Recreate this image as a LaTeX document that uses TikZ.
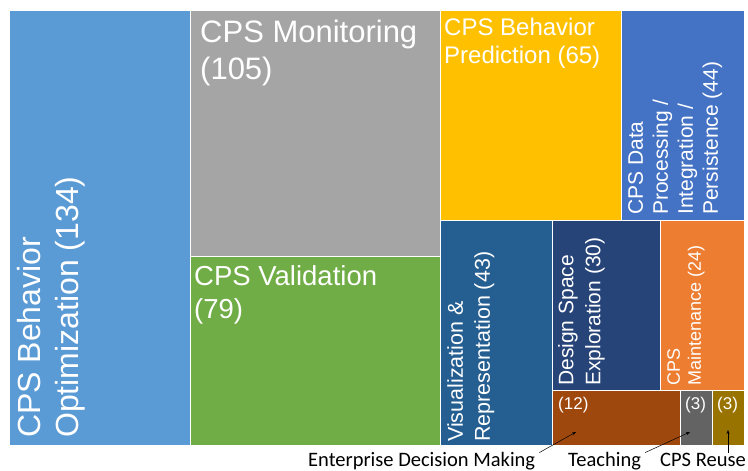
\documentclass[tikz,border=0pt]{standalone}
\usepackage{fontspec}
\setmainfont{Liberation Sans}
\newfontfamily\calibri{Carlito}
\usetikzlibrary{arrows.meta}
\definecolor{optblue}{HTML}{5B9BD5}
\definecolor{mongray}{HTML}{A5A5A5}
\definecolor{valgreen}{HTML}{70AD47}
\definecolor{predyellow}{HTML}{FFC000}
\definecolor{datablue}{HTML}{4472C4}
\definecolor{visblue}{HTML}{255E91}
\definecolor{dseblue}{HTML}{264478}
\definecolor{maintorange}{HTML}{ED7D31}
\definecolor{entbrown}{HTML}{9E480E}
\definecolor{teachgray}{HTML}{636363}
\definecolor{reuseolive}{HTML}{997300}
\newcommand{\fs}[2]{\fontsize{#1}{#2}\selectfont}

\begin{document}
\begin{tikzpicture}[x=1pt, y=-1pt,
	tile/.style={draw=white, line width=0.8pt},
	lbl/.style={text=white, inner sep=0pt, align=left, anchor=north west},
	vlbl/.style={lbl, rotate=90},
	note/.style={inner sep=0pt, anchor=base west, font=\calibri\fs{20.5}{24}},
	pointer/.style={-{Stealth[length=4pt, width=3pt]}, line width=0.5pt}]
	\useasboundingbox (0,0) rectangle (748,471);
	
	\path[tile, fill=optblue] (9,10) rectangle (190,445);
	\path[tile, fill=mongray] (190,10) rectangle (440,256);
	\path[tile, fill=valgreen] (190,256) rectangle (440,445);
	\path[tile, fill=predyellow] (440,10) rectangle (621,220);
	\path[tile, fill=datablue] (621,10) rectangle (744,220);
	\path[tile, fill=visblue] (440,220) rectangle (552,445);
	\path[tile, fill=dseblue] (552,220) rectangle (660,390);
	\path[tile, fill=maintorange] (660,220) rectangle (744,390);
	\path[tile, fill=entbrown] (552,390) rectangle (680,445);
	\path[tile, fill=teachgray] (680,390) rectangle (712,445);
	\path[tile, fill=reuseolive] (712,390) rectangle (744,445);
	
	\node[vlbl, font=\fs{32}{38}] (opt) at (17,438) {CPS Behavior\\Optimization (134)};
	\node[lbl, font=\fs{31}{37}] (mon) at (200,20) {CPS Monitoring\\(105)};
	\node[lbl, font=\fs{27.5}{33}] (val) at (194,265) {CPS Validation\\(79)};
	\node[lbl, font=\fs{24}{28}] (pred) at (444,18) {CPS Behavior\\Prediction (65)};
	\node[vlbl, font=\fs{21}{25}] (data) at (628,215) {CPS Data\\Processing /\\Integration /\\Persistence (44)};
	\node[vlbl, font=\fs{21.5}{27}] (vis) at (447,442) {Visualization \&\\Representation (43)};
	\node[vlbl, font=\fs{21}{27}] (dse) at (558,386) {Design Space\\Exploration (30)};
	\node[vlbl, font=\fs{18}{21}] (maint) at (667,386) {CPS\\Maintenance (24)};
	\node[lbl, font=\fs{17}{20}] (ent) at (558,397) {(12)};
	\node[lbl, font=\fs{17}{20}] (teach) at (685,397) {(3)};
	\node[lbl, font=\fs{17}{20}] (reuse) at (717,397) {(3)};
	
	\node[note] (entnote) at (308,466) {Enterprise Decision Making};
	\node[note] (teachnote) at (568,466) {Teaching};
	\node[note] (reusenote) at (660,466) {CPS Reuse};
	\coordinate (enttip) at (576,432);
	\coordinate (teachtip) at (690,432);
	\coordinate (reusetip) at (728,430);
	
	\draw[pointer] ([xshift=4pt, yshift=-1pt]entnote.north east) -- (enttip);
	\draw[pointer] ([xshift=4pt, yshift=-1pt]teachnote.north east) -- (teachtip);
	\draw[pointer] (reusenote.north -| reusetip) -- (reusetip);
\end{tikzpicture}
\end{document}
